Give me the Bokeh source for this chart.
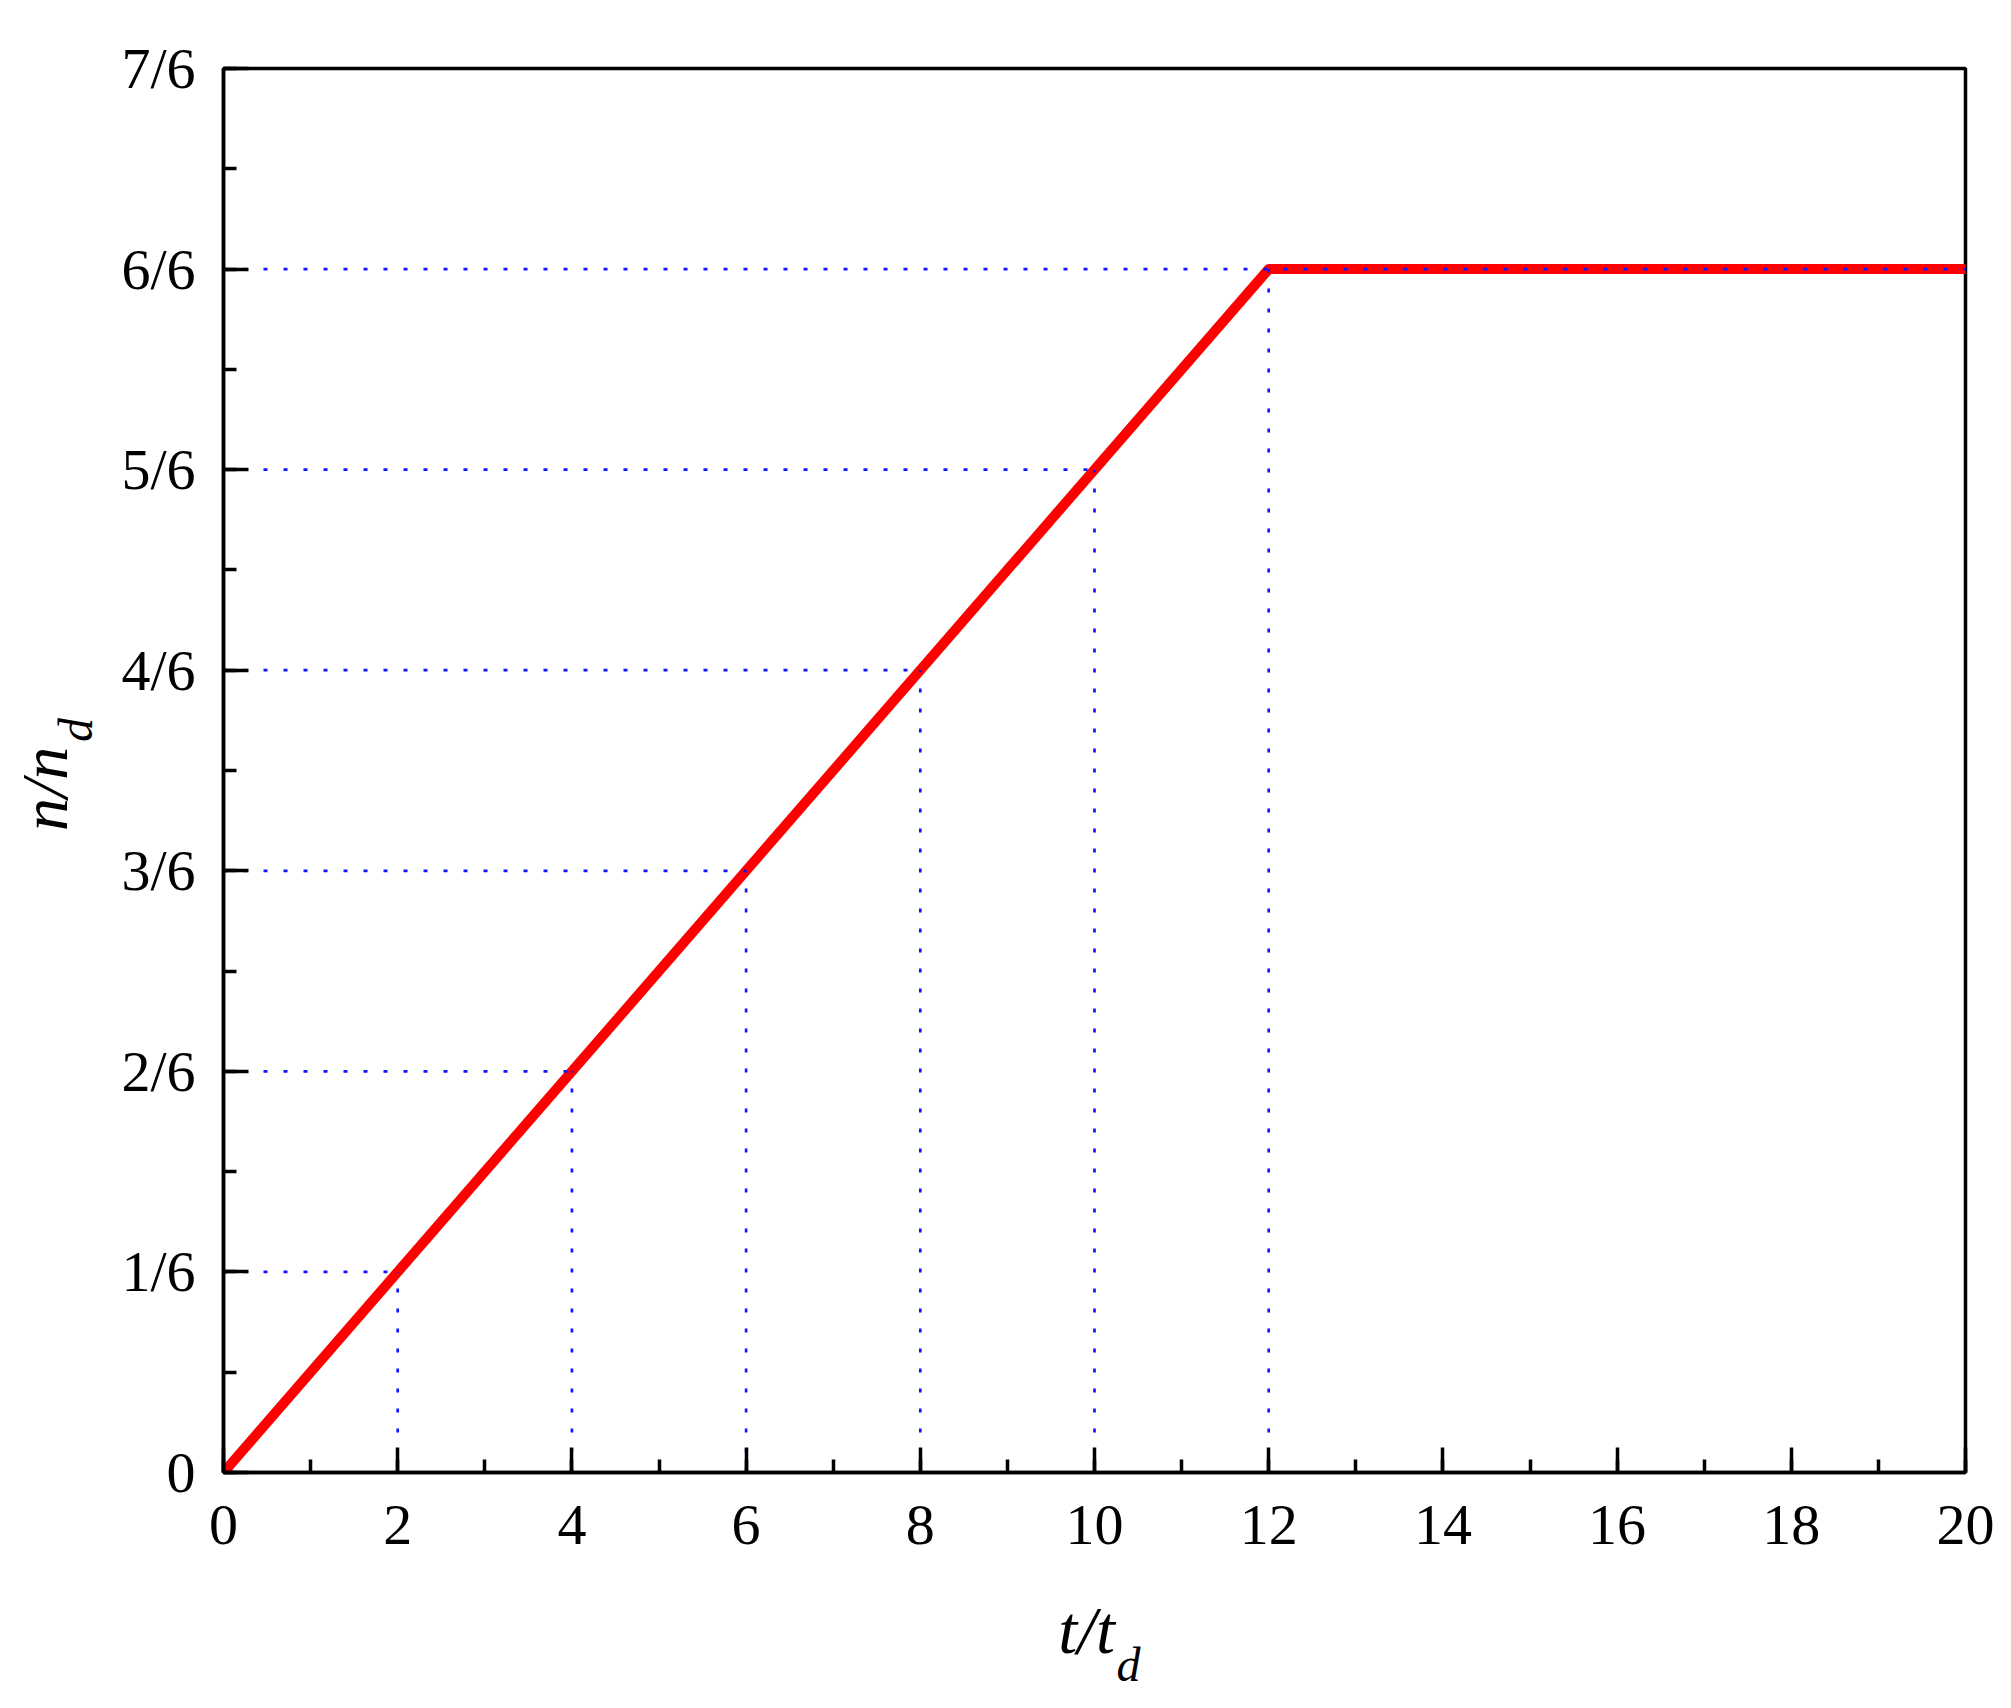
from bokeh.plotting import figure
from bokeh.models import (Range1d, FixedTicker, CustomJSTickFormatter, LinearAxis)
from bokeh.embed import file_html
from bokeh.resources import INLINE

# ---- data ----
t_curve = [0, 12, 20]
n_curve = [0, 1, 1]
guide_t = [2, 4, 6, 8, 10, 12]
guide_n = [1/6, 2/6, 3/6, 4/6, 5/6, 6/6]
x_major = [0, 2, 4, 6, 8, 10, 12, 14, 16, 18, 20]
x_minor = list(range(0, 21))
y_tick_labels = ["0", "1/6", "2/6", "3/6", "4/6", "5/6", "6/6", "7/6"]
y_major = [k / 6 for k in range(len(y_tick_labels))]
y_minor = [k / 12 for k in range(15)]
x_title = ["t/t", "d"]          # t/t_d
y_title = ["n/n", "d"]          # n/n_d

FONT = "Liberation Serif"

p = figure(width=1999, height=1692, frame_width=1742, frame_height=1404,
           min_border_left=223, min_border_right=34, min_border_top=68,
           min_border_bottom=220, output_backend="svg", toolbar_location=None,
           x_range=Range1d(0, 20), y_range=Range1d(0, 7/6))
p.background_fill_color = "white"
p.border_fill_color = "white"
p.outline_line_color = "black"
p.outline_line_width = 3.5
p.xgrid.visible = False
p.ygrid.visible = False

# red curve
p.line(t_curve, n_curve, line_color="#FF0000", line_width=10,
       line_join="round", line_cap="round")

# dotted guides
h_end = guide_t[:-1] + [t_curve[-1]]
p.segment(x0=[0] * len(guide_n), y0=guide_n, x1=h_end, y1=guide_n,
          line_color="#1414ff", line_width=2.7, line_dash="4 16")
p.segment(x0=guide_t, y0=[0] * len(guide_t), x1=guide_t, y1=guide_n,
          line_color="#1414ff", line_width=2.7, line_dash="4 16")

for ax in (p.xaxis[0], p.yaxis[0]):
    ax.axis_line_width = 3.5
    ax.axis_line_color = "black"
    ax.major_tick_line_width = 3.5
    ax.minor_tick_line_width = 3.5
    ax.major_tick_in = 25
    ax.major_tick_out = 0
    ax.minor_tick_in = 13
    ax.minor_tick_out = 0
    ax.major_label_text_font = FONT
    ax.major_label_text_font_size = "58px"
    ax.major_label_text_color = "black"

p.xaxis.ticker = FixedTicker(ticks=x_major, minor_ticks=x_minor)
p.xaxis.major_label_standoff = 33
p.yaxis.ticker = FixedTicker(ticks=y_major, minor_ticks=y_minor)
p.yaxis.major_label_standoff = 28
p.yaxis.formatter = CustomJSTickFormatter(
    args=dict(labels=y_tick_labels),
    code="return labels[Math.round(tick*6)];")


def title_axis(side, pos, text, size, standoff):
    ax = LinearAxis(ticker=FixedTicker(ticks=[pos], minor_ticks=[]),
                    formatter=CustomJSTickFormatter(args=dict(txt=text),
                                                    code="return txt;"))
    ax.axis_line_color = None
    ax.major_tick_line_color = None
    ax.minor_tick_line_color = None
    ax.major_tick_in = 0
    ax.major_tick_out = 0
    ax.minor_tick_in = 0
    ax.minor_tick_out = 0
    ax.major_label_standoff = standoff
    ax.major_label_text_font = FONT
    ax.major_label_text_font_style = "italic"
    ax.major_label_text_font_size = size
    ax.major_label_text_color = "black"
    if side == "left":
        ax.major_label_orientation = "parallel"
    p.add_layout(ax, side)


# x title: t/t with subscript d
title_axis("below", 9.91, x_title[0], "68px", 45)
title_axis("below", 10.39, x_title[1], "48px", -33)
# y title: n/n with subscript d (subscript sits closer to the axis)
title_axis("left", 0.617, y_title[1], "48px", 16)
title_axis("left", 0.568, y_title[0], "66px", -35)

open("out.html", "w").write(file_html(p, INLINE))
